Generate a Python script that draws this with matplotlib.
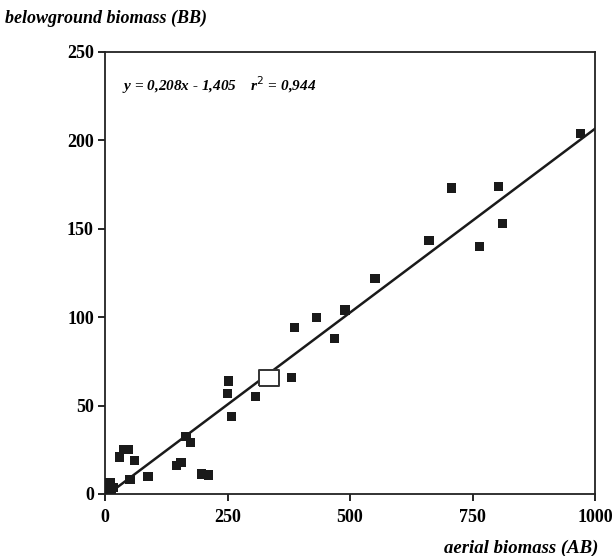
import matplotlib
matplotlib.use("Agg")
import matplotlib.pyplot as plt
import numpy as np

# Data
aerial = [971, 803, 707, 811, 764, 661, 551, 490, 431, 387, 469, 380,
          252, 250, 307, 258, 165, 175, 146, 155, 197, 211, 88, 51,
          30, 38, 48, 60, 10, 5, 18, 3, 12]
below = [204, 174, 173, 153, 140, 143.5, 122, 104, 100, 94, 88, 66,
         64, 57, 55, 44, 32.5, 29, 16, 18, 11.3, 10.7, 10, 8.3,
         21, 25, 25, 19, 6.5, 1.5, 3.5, 0, 2]
open_x = [334]
open_y = [65.5]
slope = 0.208
intercept = -1.405
line_x = [7, 1000]
xticks = [0, 250, 500, 750, 1000]
yticks = [0, 50, 100, 150, 200, 250]

plt.rcParams['font.family'] = ['Liberation Serif', 'DejaVu Serif']

fig = plt.figure(figsize=(6.13, 5.56), dpi=100)
ax = fig.add_axes([105/613, 62/556, 490/613, 442/556])

lx = np.array(line_x, dtype=float)
ax.plot(lx, slope * lx + intercept, color='#1a1a1a', lw=1.8, zorder=2)
ax.scatter(aerial, below, marker='s', s=45, color='#1a1a1a', edgecolors='none', zorder=3)
rect = [(-1.27, -1), (1.27, -1), (1.27, 1), (-1.27, 1), (-1.27, -1)]
ax.scatter(open_x, open_y, marker=rect, s=190, facecolor='white', edgecolor='#333333',
           linewidths=1.4, zorder=4)

ax.set_xlim(0, 1000)
ax.set_ylim(0, 250)
ax.set_xticks(xticks)
ax.set_yticks(yticks)
ax.tick_params(direction='out', length=5, width=1.2, labelsize=13)
ax.tick_params(axis='x', pad=6)
ax.tick_params(axis='y', pad=3)
for lab in ax.get_xticklabels() + ax.get_yticklabels():
    lab.set_fontweight('bold')
for sp in ax.spines.values():
    sp.set_linewidth(1.3)
    sp.set_color('#222222')

ax.text(0.035, 0.925, r'y = 0,208x - 1,405    r$^{2}$ = 0,944', transform=ax.transAxes,
        fontsize=11, fontweight='bold', fontstyle='italic', ha='left', va='center')

fig.text(5/613, 1 - 18/556, 'belowground biomass (BB)', fontsize=13, fontweight='bold',
         fontstyle='italic', ha='left', va='center')
fig.text(598/613, 1 - 548/556, 'aerial biomass (AB)', fontsize=13.5, fontweight='bold',
         fontstyle='italic', ha='right', va='center')

fig.savefig('out.png', dpi=100)
